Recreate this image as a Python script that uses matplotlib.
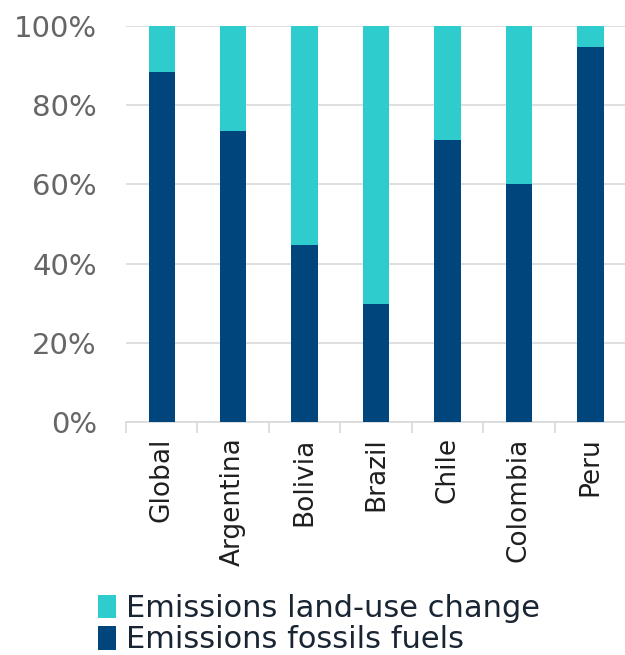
import numpy as np
import matplotlib.pyplot as plt

countries = ["Global", "Argentina", "Bolivia", "Brazil", "Chile", "Colombia", "Peru"]
fossil = [88.3, 73.6, 44.8, 29.9, 71.1, 60.2, 94.6]
land_use = [100 - v for v in fossil]

navy = "#00457C"
teal = "#2ECCCC"
grid_c = "#D9D9D9"

plt.rcParams['font.family'] = ['DejaVu Sans']

fig = plt.figure(figsize=(6.25, 6.55), dpi=100)
ax = fig.add_axes([0.2016, 0.3557, 0.8, 0.6046])

x = np.arange(len(countries))
ax.bar(x, fossil, width=0.37, color=navy, label="Emissions fossils fuels", zorder=3)
ax.bar(x, land_use, width=0.37, bottom=fossil, color=teal,
       label="Emissions land-use change", zorder=3)

ax.set_xlim(-0.5, len(countries) - 0.5)
ax.set_ylim(0, 100)
ax.set_yticks(range(0, 101, 20))
ax.set_yticklabels(["{}%".format(v) for v in range(0, 101, 20)])
ax.yaxis.grid(True, color=grid_c, linewidth=1.2, zorder=0)
ax.tick_params(axis='y', length=0, pad=21, labelsize=21, labelcolor="#666666")

ax.set_xticks(x)
ax.set_xticklabels(countries, rotation=90)
ax.tick_params(axis='x', which='major', length=0, pad=11, labelsize=19, labelcolor="#1F1F1F")
ax.set_xticks(np.arange(-0.5, len(countries), 1), minor=True)
ax.tick_params(axis='x', which='minor', length=8, width=1.2, color=grid_c)

for s in ["top", "right", "left"]:
    ax.spines[s].set_visible(False)
ax.spines["bottom"].set_color(grid_c)
ax.spines["bottom"].set_linewidth(1.2)

handles, labels = ax.get_legend_handles_labels()
fig.legend(handles[::-1], labels[::-1], loc="upper left",
           bbox_to_anchor=(98 / 625, 1 - 594 / 655), frameon=False,
           fontsize=22, labelcolor="#1A2533", handlelength=0.6, handleheight=0.8,
           handletextpad=0.3, labelspacing=0.08, borderpad=0, borderaxespad=0)

fig.savefig("out.png", dpi=100)
